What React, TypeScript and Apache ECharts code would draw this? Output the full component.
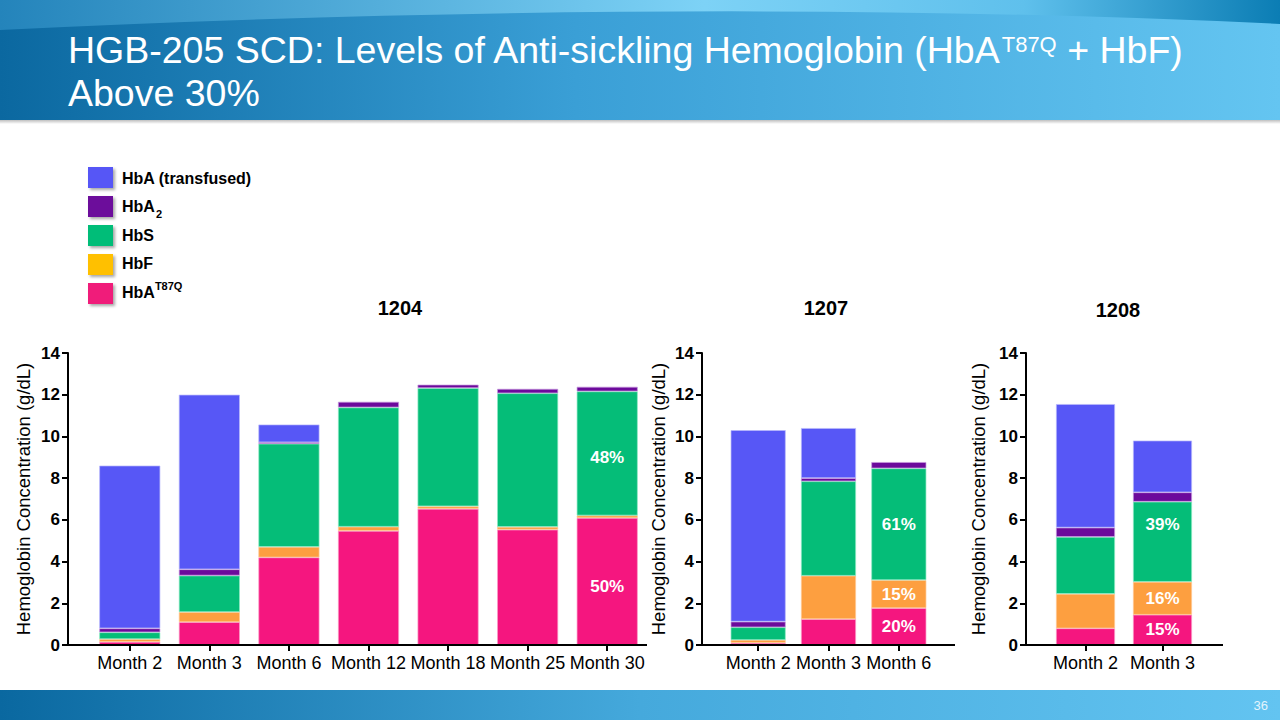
import React, { useEffect, useRef } from 'react';
import * as echarts from 'echarts';

const FONT = '"Liberation Sans", Arial, Helvetica, sans-serif';

// ---------- data ----------
const legendNames = ['HbA (transfused)', 'HbA2', 'HbS', 'HbF', 'HbAT87Q'];
const titleLine1 = ['HGB-205 SCD: Levels of Anti-sickling Hemoglobin (HbA', 'T87Q', ' + HbF)'];
const titleLine2 = 'Above 30%';
const panelTitles = ['1204', '1207', '1208'];
const yAxisName = 'Hemoglobin Concentration (g/dL)';
const yMin = 0;
const yMax = 14;
const yStep = 2;

const months1204 = ['Month 2', 'Month 3', 'Month 6', 'Month 12', 'Month 18', 'Month 25', 'Month 30'];
const hbaT87Q1204 = [0.15, 1.1, 4.2, 5.47, 6.53, 5.53, 6.09];
const hbf1204 = [0.13, 0.48, 0.5, 0.2, 0.12, 0.13, 0.12];
const hbs1204 = [0.33, 1.75, 4.95, 5.72, 5.67, 6.41, 5.95];
const hba2_1204 = [0.19, 0.3, 0.07, 0.27, 0.16, 0.21, 0.22];
const hba1204 = [7.8, 8.37, 0.85, 0, 0, 0, 0];
const pctT87Q1204 = ['', '', '', '', '', '', '50%'];
const pctHbS1204 = ['', '', '', '', '', '', '48%'];

const months1207 = ['Month 2', 'Month 3', 'Month 6'];
const hbaT87Q1207 = [0.1, 1.24, 1.77];
const hbf1207 = [0.14, 2.08, 1.34];
const hbs1207 = [0.61, 4.53, 5.36];
const hba2_1207 = [0.27, 0.15, 0.3];
const hba1207 = [9.18, 2.4, 0];
const pctT87Q1207 = ['', '', '20%'];
const pctHbF1207 = ['', '', '15%'];
const pctHbS1207 = ['', '', '61%'];

const months1208 = ['Month 2', 'Month 3'];
const hbaT87Q1208 = [0.8, 1.45];
const hbf1208 = [1.65, 1.58];
const hbs1208 = [2.73, 3.84];
const hba2_1208 = [0.45, 0.45];
const hba1208 = [5.92, 2.48];
const pctT87Q1208 = ['', '15%'];
const pctHbF1208 = ['', '16%'];
const pctHbS1208 = ['', '39%'];

const pageNumber = '36';

// ---------- styling / layout ----------
// stack order bottom -> top : HbA T87Q, HbF, HbS, HbA2, HbA
const stackNames = ['HbAT87Q', 'HbF', 'HbS', 'HbA2', 'HbA (transfused)'];
const barColors = ['#F5167F', '#FD9F40', '#05BD78', '#6C0A9B', '#5757F6'];
const barBorders = ['#fb9cc8', '#fec995', '#8fe9c4', '#c79ae0', '#b9b9fb'];
const legendColors = ['#5757F6', '#6C0A9B', '#05BD78', '#FFC000', '#F01A7A'];

const panels = [
  {
    cats: months1204,
    values: [hbaT87Q1204, hbf1204, hbs1204, hba2_1204, hba1204],
    labels: [pctT87Q1204, [], pctHbS1204, [], []],
  },
  {
    cats: months1207,
    values: [hbaT87Q1207, hbf1207, hbs1207, hba2_1207, hba1207],
    labels: [pctT87Q1207, pctHbF1207, pctHbS1207, [], []],
  },
  {
    cats: months1208,
    values: [hbaT87Q1208, hbf1208, hbs1208, hba2_1208, hba1208],
    labels: [pctT87Q1208, pctHbF1208, pctHbS1208, [], []],
  },
];

const GRID_TOP = 353;
const GRID_BOTTOM = 645;
const layouts = [
  { axisX: 68, endX: 647, gridLeft: 90, gridRight: 647, barWidth: 61, titleX: 400, titleY: 308, nameGap: 35 },
  { axisX: 702, endX: 955, gridLeft: 723, gridRight: 934, barWidth: 55, titleX: 826, titleY: 308, nameGap: 34 },
  { axisX: 1026, endX: 1223, gridLeft: 1047, gridRight: 1201, barWidth: 59, titleX: 1118, titleY: 310, nameGap: 38 },
];
const labelOffsets: Record<string, number[]> = {
  '0-0': [0, 5],
  '0-2': [0, 4],
  '2-2': [0, -17],
};

function richLegend(name: string): string {
  if (name === 'HbA2') return '{b|HbA}{sub|2}';
  if (name === 'HbAT87Q') return '{b|HbA}{sup|T87Q}';
  return '{b|' + name + '}';
}

function buildOption() {
  const grids: any[] = [];
  const xAxes: any[] = [];
  const yAxes: any[] = [];
  const series: any[] = [];
  const graphics: any[] = [];

  // header
  graphics.push({
    type: 'rect',
    shape: { x: 0, y: 0, width: 1280, height: 120 },
    style: {
      fill: new echarts.graphic.LinearGradient(0, 0, 1, 0, [
        { offset: 0, color: '#0b68a0' },
        { offset: 0.45, color: '#3a9fd6' },
        { offset: 1, color: '#64c5f1' },
      ]),
    },
    silent: true,
  });
  graphics.push({
    type: 'headerTop',
    x: 0,
    y: 0,
    style: {
      fill: new echarts.graphic.LinearGradient(0, 0, 1, 0, [
        { offset: 0, color: '#2484bb' },
        { offset: 0.55, color: '#7dd2f6' },
        { offset: 0.8, color: '#5fc0ec' },
        { offset: 1, color: '#0b7db4' },
      ]),
    },
    silent: true,
  });
  graphics.push({
    type: 'rect',
    shape: { x: 0, y: 120, width: 1280, height: 4 },
    style: {
      fill: new echarts.graphic.LinearGradient(0, 0, 0, 1, [
        { offset: 0, color: 'rgba(0,0,0,0.25)' },
        { offset: 1, color: 'rgba(0,0,0,0)' },
      ]),
    },
    silent: true,
  });
  graphics.push({
    type: 'text',
    x: 68,
    y: 50,
    style: {
      text: '{t|' + titleLine1[0] + '}{s|' + titleLine1[1] + '}{t|' + titleLine1[2] + '}',
      rich: {
        t: { fontSize: 37.5, fontFamily: FONT, fill: '#ffffff', color: '#ffffff', lineHeight: 40 },
        s: { fontSize: 22, fontFamily: FONT, fill: '#ffffff', color: '#ffffff', verticalAlign: 'top', lineHeight: 40, padding: [3, 0, 0, 0] },
      },
      align: 'left',
      textAlign: 'left',
      verticalAlign: 'middle',
      textVerticalAlign: 'middle',
    },
    silent: true,
  });
  graphics.push({
    type: 'text',
    x: 68,
    y: 93,
    style: {
      text: titleLine2,
      fontSize: 37.5,
      fontFamily: FONT,
      fill: '#ffffff',
      align: 'left',
      textAlign: 'left',
      verticalAlign: 'middle',
      textVerticalAlign: 'middle',
    },
    silent: true,
  });

  // footer
  graphics.push({
    type: 'rect',
    shape: { x: 0, y: 690, width: 1280, height: 30 },
    style: {
      fill: new echarts.graphic.LinearGradient(0, 0, 1, 0, [
        { offset: 0, color: '#0a68a0' },
        { offset: 0.5, color: '#45a9dc' },
        { offset: 1, color: '#63c4f1' },
      ]),
    },
    silent: true,
  });
  graphics.push({
    type: 'text',
    x: 1268,
    y: 705,
    style: {
      text: pageNumber,
      fontSize: 13,
      fontFamily: FONT,
      fill: '#e2f4fd',
      align: 'right',
      textAlign: 'right',
      verticalAlign: 'middle',
      textVerticalAlign: 'middle',
    },
    silent: true,
  });

  // legend
  legendNames.forEach((name, i) => {
    graphics.push({
      type: 'rect',
      shape: { x: 88, y: 167 + i * 29, width: 25, height: 21 },
      style: {
        fill: legendColors[i],
        shadowBlur: 3,
        shadowOffsetX: 2,
        shadowOffsetY: 2,
        shadowColor: 'rgba(0,0,0,0.35)',
      },
      silent: true,
    });
    graphics.push({
      type: 'text',
      x: 122,
      y: 178 + i * 28.5,
      style: {
        text: richLegend(name),
        rich: {
          b: { fontSize: 16, fontWeight: 'bold', fontFamily: FONT, fill: '#000', color: '#000', lineHeight: 20 },
          sub: { fontSize: 11, fontWeight: 'bold', fontFamily: FONT, fill: '#000', color: '#000', verticalAlign: 'bottom', lineHeight: 20, padding: [0, 0, -3, 1] },
          sup: { fontSize: 11, fontWeight: 'bold', fontFamily: FONT, fill: '#000', color: '#000', verticalAlign: 'top', lineHeight: 20, padding: [-2, 0, 0, 0] },
        },
        align: 'left',
        textAlign: 'left',
        verticalAlign: 'middle',
        textVerticalAlign: 'middle',
      },
      silent: true,
    });
  });

  panels.forEach((p, pi) => {
    const L = layouts[pi];
    grids.push({
      left: L.gridLeft,
      width: L.gridRight - L.gridLeft,
      top: GRID_TOP,
      height: GRID_BOTTOM - GRID_TOP,
      containLabel: false,
    });
    xAxes.push({
      gridIndex: pi,
      type: 'category',
      data: p.cats,
      axisLine: { show: false },
      axisTick: { show: true, alignWithLabel: true, length: 6, lineStyle: { color: '#000', width: 2 } },
      axisLabel: { color: '#000', fontSize: 18, fontFamily: FONT, margin: 9, interval: 0 },
      splitLine: { show: false },
    });
    yAxes.push({
      gridIndex: pi,
      type: 'value',
      min: yMin,
      max: yMax,
      interval: yStep,
      offset: L.gridLeft - L.axisX,
      axisLine: { show: true, lineStyle: { color: '#000', width: 2 } },
      axisTick: { show: true, length: 6, lineStyle: { color: '#000', width: 2 } },
      axisLabel: { color: '#000', fontSize: 17, fontWeight: 'bold', fontFamily: FONT, margin: 8 },
      splitLine: { show: false },
      name: yAxisName,
      nameLocation: 'middle',
      nameGap: L.nameGap,
      nameTextStyle: { color: '#000', fontSize: 18.5, fontFamily: FONT },
    });
    graphics.push({
      type: 'line',
      shape: { x1: L.axisX - 1, y1: GRID_BOTTOM, x2: L.endX, y2: GRID_BOTTOM },
      style: { stroke: '#000', lineWidth: 2 },
      silent: true,
      z: 10,
    });
    graphics.push({
      type: 'text',
      x: L.titleX,
      y: L.titleY,
      style: {
        text: panelTitles[pi],
        fontSize: 20,
        fontWeight: 'bold',
        fontFamily: FONT,
        fill: '#000',
        align: 'center',
        textAlign: 'center',
        verticalAlign: 'middle',
        textVerticalAlign: 'middle',
      },
      silent: true,
    });

    p.values.forEach((vals, k) => {
      const lbls = p.labels[k] || [];
      series.push({
        type: 'bar',
        name: stackNames[k],
        xAxisIndex: pi,
        yAxisIndex: pi,
        stack: 'panel' + pi,
        barWidth: L.barWidth,
        itemStyle: { color: barColors[k], borderColor: barBorders[k], borderWidth: 0.7 },
        data: vals.map((v, i) => {
          const lbl = lbls[i];
          return {
            value: v === 0 ? '-' : v,
            label: lbl
              ? {
                  show: true,
                  position: 'inside',
                  formatter: lbl,
                  color: '#ffffff',
                  fontSize: 17,
                  fontWeight: 'bold',
                  fontFamily: FONT,
                  offset: labelOffsets[pi + '-' + k] || [0, 0],
                }
              : { show: false },
          };
        }),
      });
    });
  });

  return {
    animation: false,
    backgroundColor: '#ffffff',
    textStyle: { fontFamily: FONT },
    grid: grids,
    xAxis: xAxes,
    yAxis: yAxes,
    series,
    graphic: { elements: graphics },
  };
}

let registered = false;
function registerShapes() {
  if (registered) return;
  registered = true;
  echarts.graphic.registerShape(
    'headerTop',
    echarts.graphic.extendPath('M0 0 L1280 0 L1280 24 Q700 -4 0 30 Z', {})
  );
}

export default function App() {
  const ref = useRef<HTMLDivElement>(null);
  useEffect(() => {
    if (!ref.current) return;
    registerShapes();
    const chart = echarts.init(ref.current, null, { renderer: 'svg' });
    chart.setOption(buildOption() as any);
    return () => {
      chart.dispose();
    };
  }, []);
  return (
    <div
      ref={ref}
      style={{ position: 'fixed', left: 0, top: 0, width: 1280, height: 720, background: '#fff' }}
    />
  );
}
